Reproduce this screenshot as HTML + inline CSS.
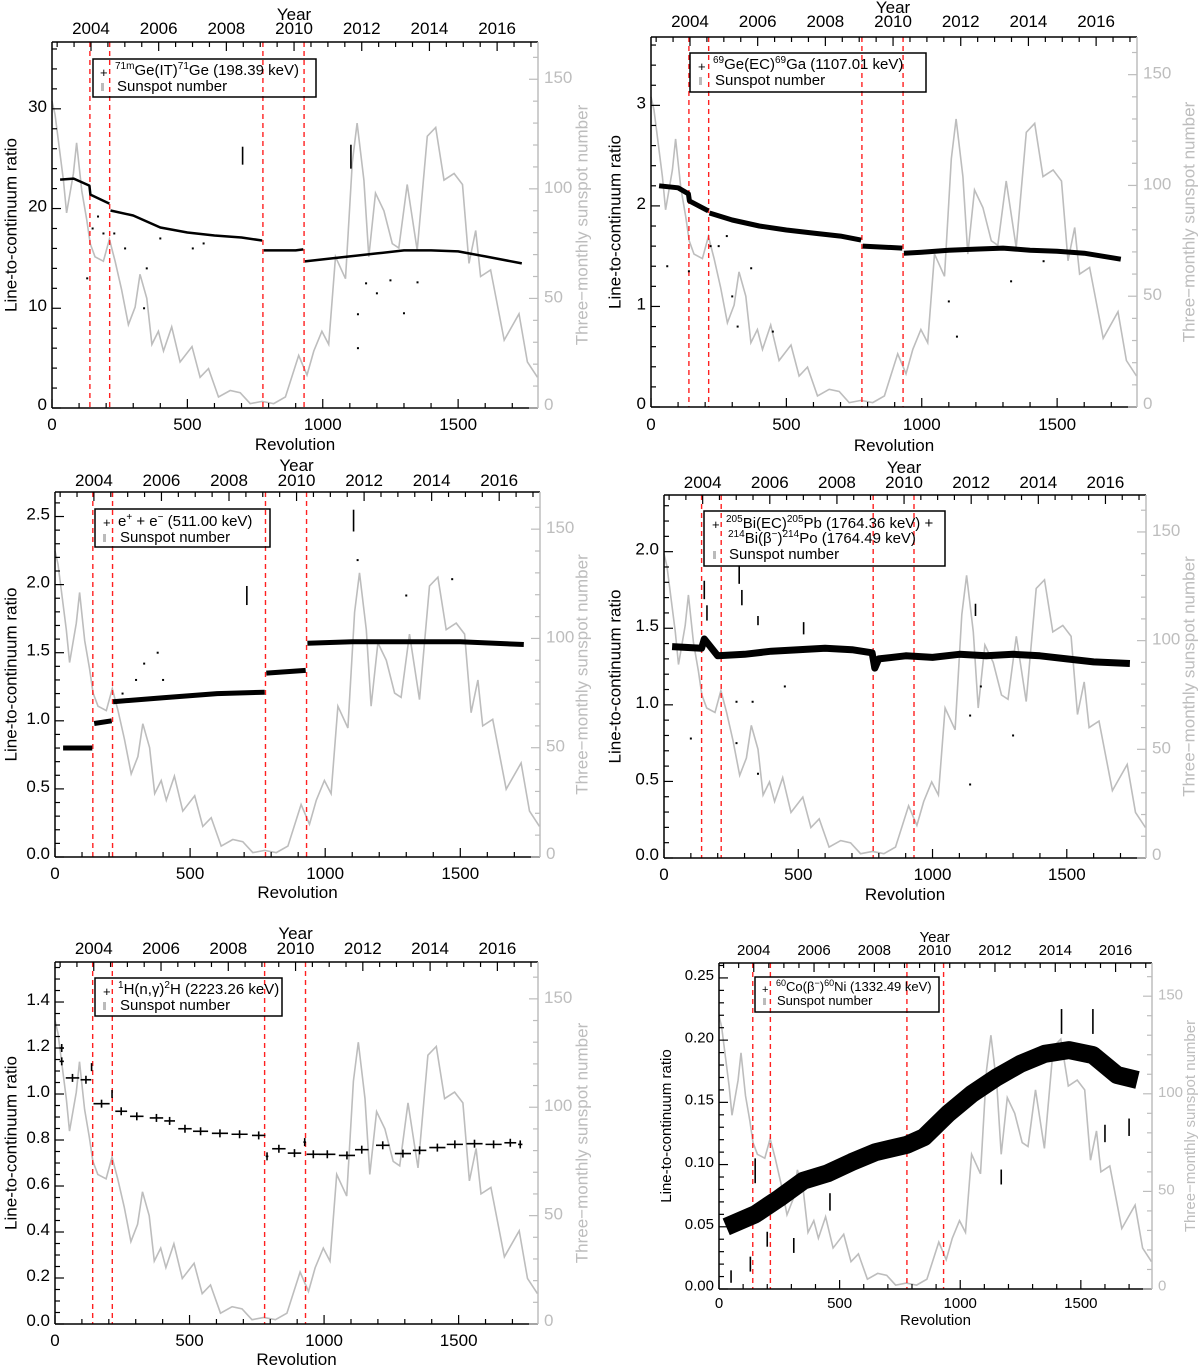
<!DOCTYPE html>
<html><head><meta charset="utf-8"><style>
html,body{margin:0;padding:0;background:#fff;}
svg{display:block;font-family:"Liberation Sans",Arial,sans-serif;}
</style></head><body>
<svg id="fig" width="1200" height="1366" viewBox="0 0 1200 1366" xmlns="http://www.w3.org/2000/svg">
<g id="layer"></g>
<g id="legends" font-size="15" fill="#000">
 <g>
  <rect x="93" y="59" width="223" height="38" fill="none" stroke="#000" stroke-width="1.5"/>
  <text x="100" y="77" font-size="13">+</text>
  <text x="115" y="75"><tspan font-size="10" dy="-6">71m</tspan><tspan dy="6">Ge(IT)</tspan><tspan font-size="10" dy="-6">71</tspan><tspan dy="6">Ge (198.39 keV)</tspan></text>
  <rect x="101" y="83" width="3" height="8" fill="#bbb"/>
  <text x="117" y="91">Sunspot number</text>
 </g>
 <g>
  <rect x="690" y="53" width="236" height="39" fill="none" stroke="#000" stroke-width="1.5"/>
  <text x="698" y="71" font-size="13">+</text>
  <text x="713" y="69"><tspan font-size="10" dy="-6">69</tspan><tspan dy="6">Ge(EC)</tspan><tspan font-size="10" dy="-6">69</tspan><tspan dy="6">Ga (1107.01 keV)</tspan></text>
  <rect x="699" y="77" width="3" height="8" fill="#bbb"/>
  <text x="715" y="85">Sunspot number</text>
 </g>
 <g>
  <rect x="95" y="509" width="175" height="38" fill="none" stroke="#000" stroke-width="1.5"/>
  <text x="103" y="527" font-size="13">+</text>
  <text x="118" y="526">e<tspan font-size="10" dy="-6">+</tspan><tspan dy="6"> + e</tspan><tspan font-size="10" dy="-6">−</tspan><tspan dy="6">  (511.00 keV)</tspan></text>
  <rect x="103" y="534" width="3" height="8" fill="#bbb"/>
  <text x="120" y="542">Sunspot number</text>
 </g>
 <g>
  <rect x="704" y="511" width="241" height="55" fill="none" stroke="#000" stroke-width="1.5"/>
  <text x="712" y="529" font-size="13">+</text>
  <text x="726" y="528"><tspan font-size="10" dy="-6">205</tspan><tspan dy="6">Bi(EC)</tspan><tspan font-size="10" dy="-6">205</tspan><tspan dy="6">Pb (1764.36 keV) +</tspan></text>
  <text x="728" y="543"><tspan font-size="10" dy="-6">214</tspan><tspan dy="6">Bi(β</tspan><tspan font-size="10" dy="-6">−</tspan><tspan dy="6">)</tspan><tspan font-size="10" dy="-6">214</tspan><tspan dy="6">Po (1764.49 keV)</tspan></text>
  <rect x="713" y="551" width="3" height="8" fill="#bbb"/>
  <text x="729" y="559">Sunspot number</text>
 </g>
 <g>
  <rect x="95" y="978" width="187" height="38" fill="none" stroke="#000" stroke-width="1.5"/>
  <text x="103" y="996" font-size="13">+</text>
  <text x="118" y="994"><tspan font-size="10" dy="-6">1</tspan><tspan dy="6">H(n,γ)</tspan><tspan font-size="10" dy="-6">2</tspan><tspan dy="6">H (2223.26 keV)</tspan></text>
  <rect x="103" y="1002" width="3" height="8" fill="#bbb"/>
  <text x="120" y="1010">Sunspot number</text>
 </g>
 <g font-size="13">
  <rect x="755" y="977" width="184" height="35" fill="none" stroke="#000" stroke-width="1.5"/>
  <text x="762" y="993" font-size="11">+</text>
  <text x="776" y="991"><tspan font-size="9" dy="-5">60</tspan><tspan dy="5">Co(β</tspan><tspan font-size="9" dy="-5">−</tspan><tspan dy="5">)</tspan><tspan font-size="9" dy="-5">60</tspan><tspan dy="5">Ni (1332.49 keV)</tspan></text>
  <rect x="763" y="998" width="3" height="7" fill="#bbb"/>
  <text x="777" y="1005">Sunspot number</text>
 </g>
</g>
</svg>
<script>
// ---- shared data ----
const SS_REV = [0,11,42,54,79,91,110,128,141,159,190,212,233,257,282,307,325,350,369,393,412,442,473,517,547,578,615,658,695,732,776,819,862,911,942,967,997,1022,1047,1084,1109,1127,1152,1170,1195,1226,1257,1281,1312,1349,1386,1417,1448,1485,1516,1540,1565,1583,1620,1670,1725,1756,1793];
const SS_VAL = [140,134,104,89,107,121,99,86,75,69,67,77,67,54,38,46,61,50,29,35,26,37,21,28,14,18,5,8,7,2,3,2,5,24,15,26,35,29,69,59,112,130,104,69,98,90,75,73,102,72,124,128,104,107,102,66,81,60,63,31,43,21,14];
const BREAK_REVS = [140,213,779,931];
const YEAR_LABELS = [2004,2006,2008,2010,2012,2014,2016];
const REV_TICKS = [0,500,1000,1500];
const SS_TICKS = [0,50,100,150];

// Panel 1: 71mGe 198.39 keV
const P1_REV = [30,80,138,142,212,null,216,300,400,500,600,700,776,null,782,900,928,null,934,1000,1100,1200,1300,1400,1500,1600,1735];
const P1_VAL = [22.9,23.0,22.3,21.4,20.5,null,19.8,19.3,18.1,17.6,17.3,17.1,16.8,null,15.8,15.8,15.9,null,14.7,14.9,15.2,15.5,15.8,15.8,15.7,15.2,14.5];
const P1_OUT_REV = [704,1104,150,170,190,230,270,350,520,130,340,1130,1160,1300,1130,1200,1250,1350,560,400];
const P1_OUT_VAL = [25.3,25.2,18,19.2,17.5,17.5,16,14,16,13,10,9.4,12.5,9.5,6,11.5,12.8,12.6,16.5,17];
const P1_OUT_ERR = [0.9,1.2,0,0,0,0,0,0,0,0,0,0,0,0,0,0,0,0,0,0];

// Panel 2: 69Ge 1107.01 keV
const P2_REV = [30,100,138,142,212,null,216,300,400,500,600,700,776,null,782,928,null,934,1000,1100,1200,1300,1400,1500,1600,1735];
const P2_VAL = [2.2,2.18,2.12,2.05,1.95,null,1.93,1.86,1.8,1.76,1.73,1.7,1.66,null,1.6,1.58,null,1.53,1.54,1.56,1.57,1.58,1.56,1.55,1.53,1.47];
const P2_OUT_REV = [140,300,370,220,280,320,450,1100,1130,1330,1450,60,250];
const P2_OUT_VAL = [1.35,1.1,1.38,1.6,1.7,0.8,0.75,1.05,0.7,1.25,1.45,1.4,1.6];
const P2_OUT_ERR = [0,0,0,0,0,0,0,0,0,0,0,0,0];

// Panel 3: 511 keV
const P3_REV = [30,138,null,145,210,null,215,400,600,776,null,782,928,null,934,1100,1300,1500,1735];
const P3_VAL = [0.8,0.8,null,0.98,1.0,null,1.14,1.17,1.2,1.21,null,1.35,1.37,null,1.57,1.58,1.58,1.58,1.56];
const P3_OUT_REV = [710,1105,300,330,380,1120,1300,1470,400,250];
const P3_OUT_VAL = [1.92,2.47,1.3,1.42,1.5,2.18,1.92,2.04,1.3,1.2];
const P3_OUT_ERR = [0.07,0.08,0,0,0,0,0,0,0,0];

// Panel 4: 1764 keV
const P4_REV = [30,140,150,200,300,400,500,600,700,775,785,800,900,1000,1100,1200,1300,1400,1500,1600,1735];
const P4_VAL = [1.38,1.37,1.43,1.32,1.33,1.35,1.36,1.37,1.36,1.34,1.24,1.3,1.32,1.31,1.33,1.32,1.33,1.32,1.3,1.28,1.27];
const P4_OUT_REV = [150,280,350,520,100,270,270,450,350,1140,1140,1300,1160,1180,330,160,290];
const P4_OUT_VAL = [1.75,1.85,1.55,1.5,0.78,0.75,1.02,1.12,0.55,0.48,0.93,0.8,1.62,1.12,1.02,1.6,1.7];
const P4_OUT_ERR = [0.06,0.06,0.03,0.04,0,0,0,0,0,0,0,0,0.04,0,0,0.05,0.05];

// Panel 5: 2223 keV (binned points)
const P5_REV = [25,25,65,115,136,173,212,246,304,377,426,483,541,613,686,757,788,832,890,928,960,1012,1085,1140,1218,1293,1355,1421,1486,1559,1630,1692,1729];
const P5_VAL = [1.2,1.142,1.07,1.062,1.117,0.958,1.0,0.925,0.903,0.896,0.883,0.849,0.838,0.829,0.825,0.82,0.729,0.762,0.743,0.791,0.738,0.738,0.733,0.758,0.777,0.741,0.755,0.767,0.781,0.784,0.781,0.788,0.781];
const P5_HALF = [8,8,25,20,0,30,0,22,25,25,20,25,28,30,30,25,5,25,25,5,25,30,30,25,25,30,25,30,30,30,30,22,8];

// Panel 6: 60Co 1332.49 keV
const P6_REV = [30,150,250,350,450,550,650,780,850,950,1050,1150,1250,1350,1450,1550,1650,1735];
const P6_VAL = [0.05,0.06,0.073,0.087,0.093,0.102,0.11,0.116,0.122,0.141,0.157,0.17,0.181,0.189,0.192,0.188,0.172,0.168];
const P6_OUT_REV = [130,200,310,460,1170,1600,1700,150,50,1420,1550];
const P6_OUT_VAL = [0.02,0.04,0.035,0.07,0.09,0.125,0.13,0.095,0.01,0.215,0.215];
const P6_OUT_ERR = [0.006,0.006,0.006,0.007,0.006,0.007,0.007,0.01,0.005,0.01,0.01];

const NS = 'http://www.w3.org/2000/svg';
const layer = document.getElementById('layer');
function mk(tag, attrs, parent){
  const e = document.createElementNS(NS, tag);
  for (const k in attrs) e.setAttribute(k, attrs[k]);
  parent.appendChild(e);
  return e;
}

function drawPanel(p, d){
  const g = mk('g', {}, layer);
  
  
  const XMAX = 1795, SSMAX = 167;
  const xs = r => p.L + r / XMAX * (p.R - p.L);
  const ys = v => p.B - v / p.ymax * (p.B - p.T);
  const ss = v => p.B - v / SSMAX * (p.B - p.T);
  const yr = y => 144 + (y - 2004) * 125;

  let pts = SS_REV.map((r,i) => xs(Math.min(r, XMAX)).toFixed(1) + ',' + ss(SS_VAL[i]).toFixed(1)).join(' ');
  const sl = mk('polyline', {points: pts, fill:'none', stroke:'#bdbdbd', 'stroke-width':1.6}, g);
  
  

  BREAK_REVS.forEach(r => {
    const l = mk('line', {x1:xs(r), x2:xs(r), y1:p.T, y2:p.B, stroke:'#ff2020', 'stroke-width':1.4, 'stroke-dasharray':'5,4'}, g);
    
    
  });

  if (d.rev){
    let seg = [];
    const flush = () => {
      if (seg.length > 1){
        const pl = mk('polyline', {points: seg.join(' '), fill:'none', stroke:'#000', 'stroke-width':p.bw, 'stroke-linejoin':'round', 'stroke-linecap':'butt'}, g);
        
        
      }
      seg = [];
    };
    d.rev.forEach((r,i) => {
      if (r === null){ flush(); return; }
      seg.push(xs(r).toFixed(1) + ',' + ys(d.val[i]).toFixed(1));
    });
    flush();
  }
  if (d.orev){
    d.orev.forEach((r,i) => {
      const v = d.oval[i], e = d.oerr[i];
      if (e > 0){
        const l = mk('line', {x1:xs(r), x2:xs(r), y1:ys(v+e), y2:ys(v-e), stroke:'#000', 'stroke-width':1.6}, g);
        
        
      } else {
        const c = mk('rect', {x:xs(r)-1, y:ys(v)-1, width:2, height:2, fill:'#000'}, g);
        
        
      }
    });
  }
  if (d.prev){
    d.prev.forEach((r,i) => {
      const v = d.pval[i], h = d.phalf[i];
      const gp = mk('g', {stroke:'#000', 'stroke-width':1.6}, g);
      
      
      if (h > 0) mk('line', {x1:xs(r-h), x2:xs(r+h), y1:ys(v), y2:ys(v)}, gp);
      mk('line', {x1:xs(r), x2:xs(r), y1:ys(v)-4, y2:ys(v)+4}, gp);
    });
  }

  const ax = mk('g', {stroke:'#000', 'stroke-width':1.5, fill:'none'}, g);
  
  
  mk('line', {x1:p.L, x2:p.L, y1:p.T, y2:p.B}, ax);
  mk('line', {x1:p.L, x2:p.R, y1:p.B, y2:p.B}, ax);
  mk('line', {x1:p.L, x2:p.R, y1:p.T, y2:p.T}, ax);
  mk('line', {x1:p.R, x2:p.R, y1:p.T, y2:p.B, stroke:'#bdbdbd'}, ax);

  const tk = mk('g', {stroke:'#000', 'stroke-width':1.2}, g);
  
  
  for (let r = 0; r <= XMAX; r += 100){
    const len = (r % 500 === 0) ? 9 : 5;
    mk('line', {x1:xs(r), x2:xs(r), y1:p.B, y2:p.B-len}, tk);
  }
  for (let y = 2003; y <= 2017.2; y += 0.5){
    const r = yr(y); if (r < 0 || r > XMAX) continue;
    const len = (y % 2 === 0) ? 9 : 5;
    mk('line', {x1:xs(r), x2:xs(r), y1:p.T, y2:p.T+len}, tk);
  }
  for (let v = 0; v <= p.ymax + 1e-9; v += p.ymin){
    const isMaj = Math.abs(v / p.ystep - Math.round(v / p.ystep)) < 1e-6;
    mk('line', {x1:p.L, x2:p.L + (isMaj ? 9 : 5), y1:ys(v), y2:ys(v)}, tk);
  }
  for (let v = 0; v <= SSMAX; v += 10){
    mk('line', {x1:p.R, x2:p.R - (v % 50 === 0 ? 9 : 5), y1:ss(v), y2:ss(v), stroke:'#bdbdbd'}, tk);
  }

  const fs = p.fs;
  for (let v = 0; v <= p.ymax + 1e-9; v += p.ystep){
    const t = mk('text', {x:p.L - 5, y:ys(v) + fs*0.35 - (v === 0 ? 4 : 3), 'font-size':fs, 'text-anchor':'end'}, g);
    
    
    t.textContent = v.toFixed(p.dec);
  }
  SS_TICKS.forEach(v => {
    const t = mk('text', {x:p.R + 6, y:ss(v) + fs*0.35 - (v === 0 ? 4 : 2), 'font-size':fs, fill:'#bdbdbd'}, g);
    
    
    t.textContent = v;
  });
  REV_TICKS.forEach(r => {
    const t = mk('text', {x:xs(r), y:p.botY, 'font-size':fs, 'text-anchor':'middle'}, g);
    
    
    t.textContent = r;
  });
  YEAR_LABELS.forEach(y => {
    const t = mk('text', {x:xs(yr(y)), y:p.yearY, 'font-size':fs, 'text-anchor':'middle'}, g);
    
    
    t.textContent = y;
  });
  const yt = mk('text', {x:xs(yr(2010)), y:p.yearTitleY, 'font-size':fs, 'text-anchor':'middle'}, g);
  
  
  yt.textContent = 'Year';
  const xt = mk('text', {x:(p.L + p.R)/2, y:p.revY, 'font-size':fs, 'text-anchor':'middle'}, g);
  
  
  xt.textContent = 'Revolution';
  const cy = (p.T + p.B)/2;
  const lt = mk('text', {x:p.titleX, y:cy, 'font-size':fs, 'text-anchor':'middle', transform:'rotate(-90 ' + p.titleX + ' ' + cy + ')', 'dominant-baseline':'middle'}, g);
  
  
  lt.textContent = 'Line-to-continuum ratio';
  const rt = mk('text', {x:p.rTitleX, y:cy, 'font-size':fs, fill:'#bdbdbd', 'text-anchor':'middle', transform:'rotate(-90 ' + p.rTitleX + ' ' + cy + ')', 'dominant-baseline':'middle'}, g);
  
  
  rt.textContent = 'Three\u2212monthly sunspot number';
}

drawPanel({name:'panel-ge71', L:52,R:538,T:42,B:408,ymax:36.7,ystep:10,ymin:2,dec:0,fs:17,bw:2.5,titleX:12,rTitleX:583,botY:430,revY:450,yearY:34,yearTitleY:20},
  {rev:P1_REV,val:P1_VAL,orev:P1_OUT_REV,oval:P1_OUT_VAL,oerr:P1_OUT_ERR});
drawPanel({name:'panel-ge69', L:651,R:1137,T:37,B:407,ymax:3.68,ystep:1,ymin:0.2,dec:0,fs:17,bw:5,titleX:616,rTitleX:1190,botY:430,revY:451,yearY:27,yearTitleY:13},
  {rev:P2_REV,val:P2_VAL,orev:P2_OUT_REV,oval:P2_OUT_VAL,oerr:P2_OUT_ERR});
drawPanel({name:'panel-511', L:55,R:540,T:492,B:857,ymax:2.68,ystep:0.5,ymin:0.1,dec:1,fs:17,bw:5,titleX:12,rTitleX:583,botY:879,revY:898,yearY:486,yearTitleY:471},
  {rev:P3_REV,val:P3_VAL,orev:P3_OUT_REV,oval:P3_OUT_VAL,oerr:P3_OUT_ERR});
drawPanel({name:'panel-1764', L:664,R:1146,T:495,B:858,ymax:2.37,ystep:0.5,ymin:0.1,dec:1,fs:17,bw:7,titleX:616,rTitleX:1190,botY:880,revY:900,yearY:488,yearTitleY:473},
  {rev:P4_REV,val:P4_VAL,orev:P4_OUT_REV,oval:P4_OUT_VAL,oerr:P4_OUT_ERR});
drawPanel({name:'panel-2223', L:55,R:538,T:962,B:1324,ymax:1.574,ystep:0.2,ymin:0.05,dec:1,fs:17,bw:0,titleX:12,rTitleX:583,botY:1346,revY:1365,yearY:954,yearTitleY:939},
  {prev:P5_REV,pval:P5_VAL,phalf:P5_HALF});
drawPanel({name:'panel-co60', L:719,R:1152,T:963,B:1289,ymax:0.262,ystep:0.05,ymin:0.01,dec:2,fs:15,bw:18,titleX:667,rTitleX:1191,botY:1308,revY:1325,yearY:955,yearTitleY:942},
  {rev:P6_REV,val:P6_VAL,orev:P6_OUT_REV,oval:P6_OUT_VAL,oerr:P6_OUT_ERR});
</script>
</body></html>
